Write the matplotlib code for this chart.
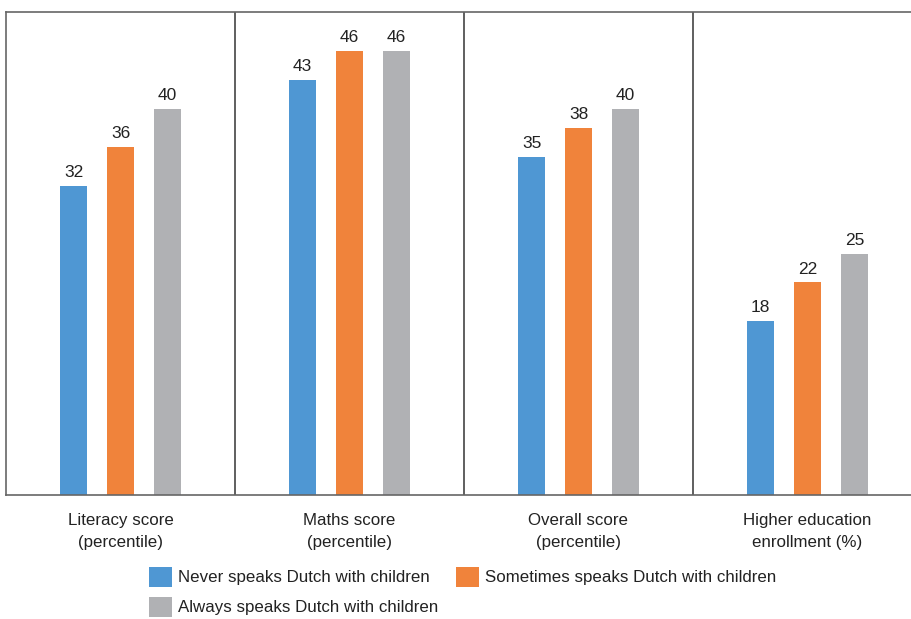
import numpy as np
import matplotlib
matplotlib.use("Agg")
import matplotlib.pyplot as plt

plt.rcParams['font.family'] = ['Liberation Sans', 'DejaVu Sans']

categories = ["Literacy score\n(percentile)", "Maths score\n(percentile)",
              "Overall score\n(percentile)", "Higher education\nenrollment (%)"]
series_names = ["Never speaks Dutch with children",
                "Sometimes speaks Dutch with children",
                "Always speaks Dutch with children"]
never = [32, 43, 35, 18]
sometimes = [36, 46, 38, 22]
always = [40, 46, 40, 25]
colors = ["#4f97d3", "#f0833b", "#b0b1b4"]

fig = plt.figure(figsize=(9.12, 6.19), dpi=100)
ax = fig.add_axes([6 / 912, 124 / 619, 916 / 912, 483 / 619])

x = np.arange(len(categories))
offsets = [-0.205, 0, 0.205]
width = 0.118
bars = []
for vals, off, col, name in zip([never, sometimes, always], offsets, colors, series_names):
    b = ax.bar(x + off, vals, width, color=col, label=name)
    bars.append(b)
    for xi, v in zip(x + off, vals):
        ax.text(xi, v + 0.6, str(v), ha='center', va='bottom', fontsize=12.5, color='#222222')

ax.set_xlim(-0.5, 3.5)
ax.set_ylim(0, 50)
for xs in [0.5, 1.5, 2.5]:
    ax.axvline(xs, color='#444444', lw=1.2)
for s in ['top', 'left', 'bottom']:
    ax.spines[s].set_color('#666666')
    ax.spines[s].set_linewidth(1.2)
ax.spines['right'].set_visible(False)
ax.set_yticks([])
ax.set_xticks(x)
ax.set_xticklabels(categories, fontsize=12.2, color='#222222', linespacing=1.6)
ax.tick_params(axis='x', length=0, pad=13)

handles = [bars[0], bars[2], bars[1]]
labels = [series_names[0], series_names[2], series_names[1]]
fig.legend(handles, labels, ncol=2, loc='upper left', bbox_to_anchor=(135 / 912, 1 - 553 / 619),
           frameon=False, fontsize=12.2, handlelength=1.36, handleheight=1.5,
           handletextpad=0.35, columnspacing=1.1, labelspacing=0.55, borderpad=0.3,
           labelcolor='#222222')

fig.savefig("out.png", dpi=100)
